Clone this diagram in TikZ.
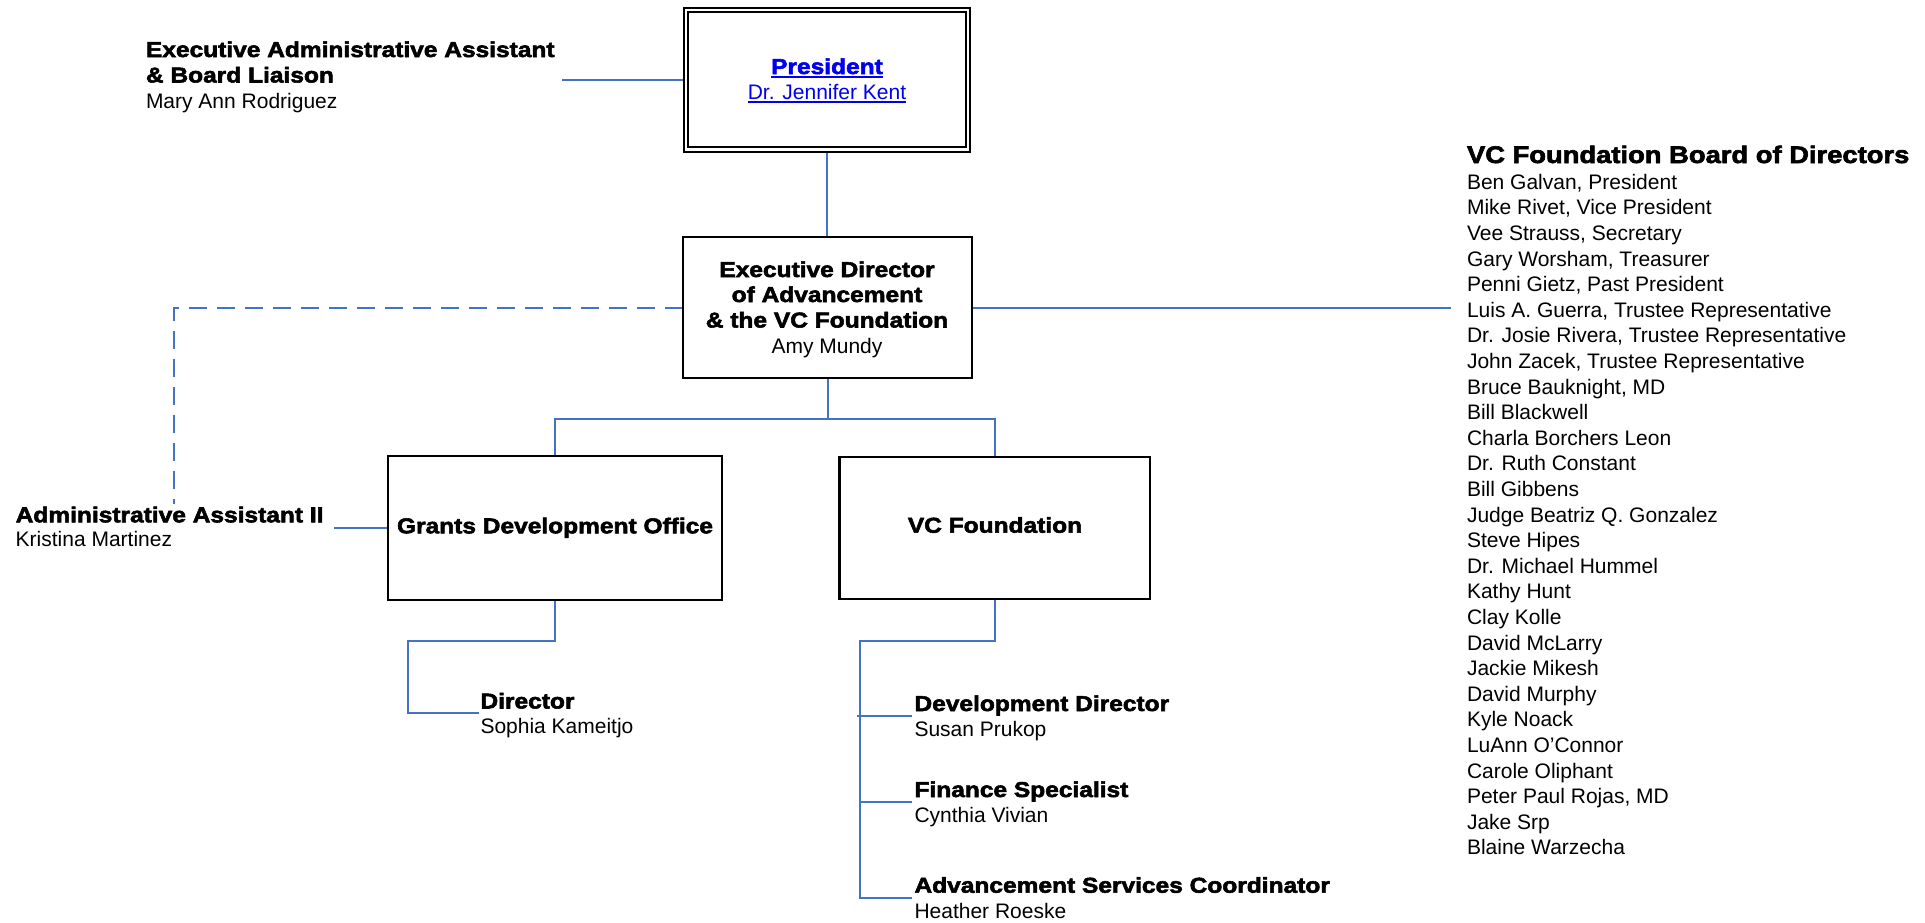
\documentclass[tikz,border=0pt]{standalone}
\usepackage{fontspec}
\setmainfont{Liberation Sans}
\newfontfamily\bk{Liberation Sans Bold}[FakeStretch=1.14,FakeBold=2.6]
\usetikzlibrary{backgrounds}
\definecolor{lnblue}{RGB}{68,114,196}
\definecolor{lnk}{RGB}{0,0,240}
\tikzset{
  conn/.style={draw=lnblue, line width=2pt},
  dconn/.style={conn, dash pattern=on 18pt off 10pt},
  box/.style={draw=black, line width=2.4pt, rectangle, inner sep=0pt, outer sep=0pt},
  bt/.style={inner sep=0pt, outer sep=0pt, font={\bk\fontsize{21.5}{25.6}\selectfont}},
  rt/.style={inner sep=0pt, outer sep=0pt, font={\fontsize{21}{25.6}\selectfont}},
  ttl/.style={inner sep=0pt, outer sep=0pt, font={\bk\fontsize{24}{28}\selectfont}},
  uline/.style={draw=lnk, line width=1.5pt}
}
\begin{document}
\begin{tikzpicture}[x=1pt,y=-1pt]
\useasboundingbox (0,0) rectangle (1925,922);

% boxes
\node[box, double, double distance=2.3pt, line width=2pt, minimum width=282pt, minimum height=139.5pt] (pres) at (827,79.75) {};
\node[box, minimum width=289pt, minimum height=141pt] (ed) at (827.5,307.5) {};
\node[box, minimum width=334pt, minimum height=144pt] (gdo) at (555,528) {};
\node[box, minimum width=310.5pt, minimum height=142pt] (vcf) at (994.75,528) {};

% president
\node[bt, text=lnk, anchor=base] (prest) at (827,74) {President};
\node[rt, text=lnk, anchor=base] (presn) at (827,99.5) {Dr. Jennifer Kent};
\draw[uline] ([yshift=-2.8pt]prest.base west) -- ([yshift=-2.8pt]prest.base east);
\draw[uline] ([yshift=-2.5pt]presn.base west) -- ([yshift=-2.5pt]presn.base east);

% executive director
\node[bt, anchor=base] (ed1) at (827,277) {Executive Director};
\node[bt, anchor=base] (ed2) at (827,302) {of Advancement};
\node[bt, anchor=base] (ed3) at (827,327.5) {\& the VC Foundation};
\node[rt, anchor=base] (ed4) at (827,353) {Amy Mundy};

% box labels
\node[bt, anchor=base] (gdot) at (555,533.3) {Grants Development Office};
\node[bt, anchor=base] (vcft) at (995,532.7) {VC Foundation};

% executive administrative assistant
\node[bt, anchor=base west] (eaa1) at (146,57) {Executive Administrative Assistant};
\node[bt, anchor=base west] (eaa2) at (146,82.5) {\& Board Liaison};
\node[rt, anchor=base west] (eaa3) at (146,108) {Mary Ann Rodriguez};

% administrative assistant II
\node[bt, anchor=base west] (aa1) at (15.7,522.3) {Administrative Assistant II};
\node[rt, anchor=base west] (aa2) at (15.7,546) {Kristina Martinez};

% grants director
\node[bt, anchor=base west] (dir1) at (480.5,708.5) {Director};
\node[rt, anchor=base west] (dir2) at (480.5,733.5) {Sophia Kameitjo};

% foundation staff
\node[bt, anchor=base west] (dd1) at (914.5,711) {Development Director};
\node[rt, anchor=base west] (dd2) at (914.5,736) {Susan Prukop};
\node[bt, anchor=base west] (fs1) at (914.5,797) {Finance Specialist};
\node[rt, anchor=base west] (fs2) at (914.5,822.5) {Cynthia Vivian};
\node[bt, anchor=base west] (asc1) at (914.5,892.7) {Advancement Services Coordinator};
\node[rt, anchor=base west] (asc2) at (914.5,918.3) {Heather Roeske};

% board
\node[ttl, anchor=base west] (bdt) at (1467,163) {VC Foundation Board of Directors};
\foreach \nm [count=\i from 0] in {{Ben Galvan, President},{Mike Rivet, Vice President},{Vee Strauss, Secretary},{Gary Worsham, Treasurer},{Penni Gietz, Past President},{Luis A. Guerra, Trustee Representative},{Dr. Josie Rivera, Trustee Representative},{John Zacek, Trustee Representative},{Bruce Bauknight, MD},{Bill Blackwell},{Charla Borchers Leon},{Dr. Ruth Constant},{Bill Gibbens},{Judge Beatriz Q. Gonzalez},{Steve Hipes},{Dr. Michael Hummel},{Kathy Hunt},{Clay Kolle},{David McLarry},{Jackie Mikesh},{David Murphy},{Kyle Noack},{LuAnn O’Connor},{Carole Oliphant},{Peter Paul Rojas, MD},{Jake Srp},{Blaine Warzecha}}
  \node[rt, anchor=base west] (bd\i) at (1467,{189.3+25.6*\i}) {\nm};

% connectors
\coordinate (eaaR) at (562,80);
\coordinate (aaTop) at (174.4,503.5);
\coordinate (aaR) at (334.3,527.5);
\coordinate (edR) at (1451,307.5);
\coordinate (bus) at (827.5,418.5);
\coordinate (gk) at (407.7,640.5);
\coordinate (vt) at (859.8,641);
\coordinate (dirB) at ([shift={(-1.5pt,-4.8pt)}]dir1.base west);
\coordinate (ddB) at ([shift={(-3pt,-5pt)}]dd1.base west);
\coordinate (fsB) at ([shift={(-3pt,-5.3pt)}]fs1.base west);
\coordinate (ascB) at ([shift={(-3pt,-5pt)}]asc1.base west);
\begin{pgfonlayer}{background}
  \draw[conn] (eaaR) -- (eaaR -| pres.west);
  \draw[conn] (pres.south) -- (pres.south |- ed.north);
  \draw[dconn] (ed.west) -| (aaTop);
  \draw[conn] (aaR) -- (aaR -| gdo.west);
  \draw[conn] (ed.east) -- (edR);
  \draw[conn] (ed.south) -- (bus);
  \draw[conn] (gdo.north) |- (bus) -| (vcf.north);
  \draw[conn] (gdo.south) |- (gk) |- (dirB);
  \draw[conn] (vcf.south) |- (vt) |- (ascB);
  \draw[conn] ([xshift=-2.5pt]ddB -| vt) -- (ddB);
  \draw[conn] (fsB -| vt) -- (fsB);
\end{pgfonlayer}
\end{tikzpicture}
\end{document}
